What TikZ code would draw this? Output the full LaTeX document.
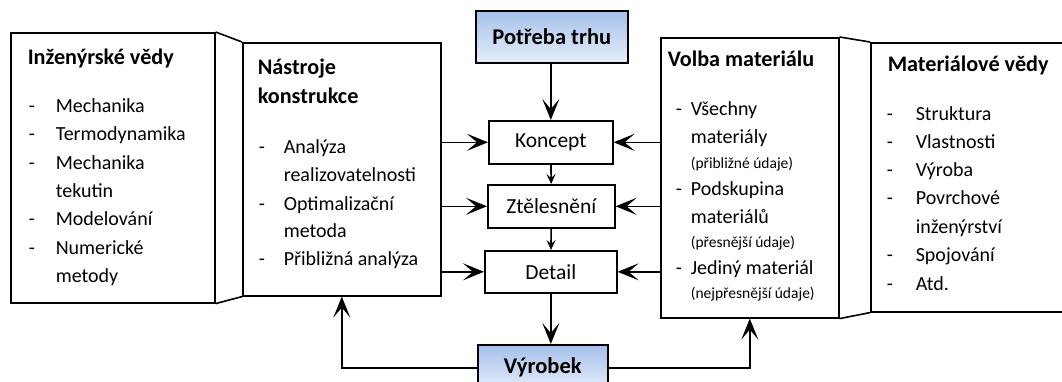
\documentclass[tikz,border=0pt]{standalone}
\usepackage{fontspec}
\setmainfont{Carlito}
\usetikzlibrary{arrows.meta,positioning}
\definecolor{shadetop}{HTML}{A6C0EA}
\definecolor{shadebot}{HTML}{E6EEFA}
\tikzset{
  panel/.style = {draw, line width=1.6pt, anchor=north west, inner sep=0pt},
  stage/.style = {panel, font=\fontsize{21.5}{24}\selectfont},
  endbox/.style = {panel, top color=shadetop, bottom color=shadebot,
                   font=\bfseries\fontsize{22.5}{24}\selectfont},
  head/.style = {anchor=base west, inner sep=0pt, font=\bfseries\fontsize{22.2}{24}\selectfont},
  item/.style = {anchor=base west, inner sep=0pt, font=\fontsize{20}{24}\selectfont},
  note/.style = {anchor=base west, inner sep=0pt, font=\fontsize{15.5}{18}\selectfont},
  big/.style = {-{Stealth[length=21pt,width=17pt,inset=10pt]}},
  small/.style = {-{Stealth[length=10pt,width=9pt,inset=4pt]}}
}

\begin{document}
\begin{tikzpicture}[x=1pt,y=-1pt,line width=1.6pt]
\useasboundingbox (0,0) rectangle (1062,381);

% boxes
\node[panel, minimum width=204pt, minimum height=270pt] (ing) at (10,32) {};
\node[panel, minimum width=198pt, minimum height=253pt] (nastroje) at (242,42) {};
\node[panel, minimum width=178pt, minimum height=280pt] (volba) at (660,37) {};
\node[panel, minimum width=210pt, minimum height=269pt] (mat) at (870,42) {};
\draw (ing.north east) -- (nastroje.north west);
\draw (ing.south east) -- (nastroje.south west);
\draw (volba.north east) -- (mat.north west);
\draw (volba.south east) -- (mat.south west);

\node[endbox, minimum width=152pt, minimum height=52pt] (potreba) at (475,10) {Potřeba trhu};
\node[stage, minimum width=124pt, minimum height=43pt] (koncept) at (488,120) {Koncept};
\node[stage, minimum width=127pt, minimum height=43pt] (ztel) at (487,184) {Ztělesnění};
\node[stage, minimum width=132pt, minimum height=42pt] (detail) at (484,250) {Detail};
\node[endbox, minimum width=130pt, minimum height=46pt] (vyrobek) at (477,344) {Výrobek};

% Inzenyrske vedy
\node[head] (ing-h) at (27,64) {Inženýrské vědy};
\foreach \y/\t [count=\i] in {112/Mechanika,140/Termodynamika,169/Mechanika,225/Modelování,254/Numerické}
  {\node[item] (ing-d\i) at (28,\y) {-};
   \node[item] (ing-t\i) at (55,\y) {\t};}
\node[item] (ing-c1) at (55,197) {tekutin};
\node[item] (ing-c2) at (55,282) {metody};

% Nastroje konstrukce
\node[head] (nas-h1) at (257,74) {Nástroje};
\node[head] (nas-h2) at (257,103) {konstrukce};
\foreach \y/\t [count=\i] in {153/Analýza,210/Optimalizační,265/Přibližná analýza}
  {\node[item] (nas-d\i) at (258,\y) {-};
   \node[item] (nas-t\i) at (283,\y) {\t};}
\node[item] (nas-c1) at (283,181) {realizovatelnosti};
\node[item] (nas-c2) at (283,237) {metoda};

% Volba materialu
\node[head] (vol-h) at (667,66) {Volba materiálu};
\foreach \y/\t [count=\i] in {115/Všechny,195/Podskupina,274/Jediný materiál}
  {\node[item] (vol-d\i) at (675,\y) {-};
   \node[item] (vol-t\i) at (690,\y) {\t};}
\node[item] (vol-c1) at (690,143) {materiály};
\node[item] (vol-c2) at (690,223) {materiálů};
\node[note] (vol-n1) at (690,168) {(přibližné údaje)};
\node[note] (vol-n2) at (690,247) {(přesnější údaje)};
\node[note] (vol-n3) at (690,298) {(nejpřesnější údaje)};

% Materialove vedy
\node[head] (mat-h) at (887,71) {Materiálové vědy};
\foreach \y/\t [count=\i] in {120/Struktura,148/Vlastnosti,176/Výroba,204/Povrchové,261/Spojování,290/Atd.}
  {\node[item] (mat-d\i) at (886,\y) {-};
   \node[item] (mat-t\i) at (915,\y) {\t};}
\node[item] (mat-c1) at (915,233) {inženýrství};

% flow
\draw[big] (potreba.south -| koncept.north) -- (koncept.north);
\draw[small] (koncept) -- (ztel);
\draw[small] (ztel) -- (detail);
\draw[big] (detail.south) -- (detail.south |- vyrobek.north);
\foreach \s in {koncept,ztel,detail}
  {\draw[big] (\s.west -| nastroje.east) -- (\s.west);
   \draw[big] (\s.east -| volba.west) -- (\s.east);}
\draw[big] (vyrobek.west) -| (nastroje.south);
\draw[big] (vyrobek.east) -| (volba.south);
\end{tikzpicture}
\end{document}
